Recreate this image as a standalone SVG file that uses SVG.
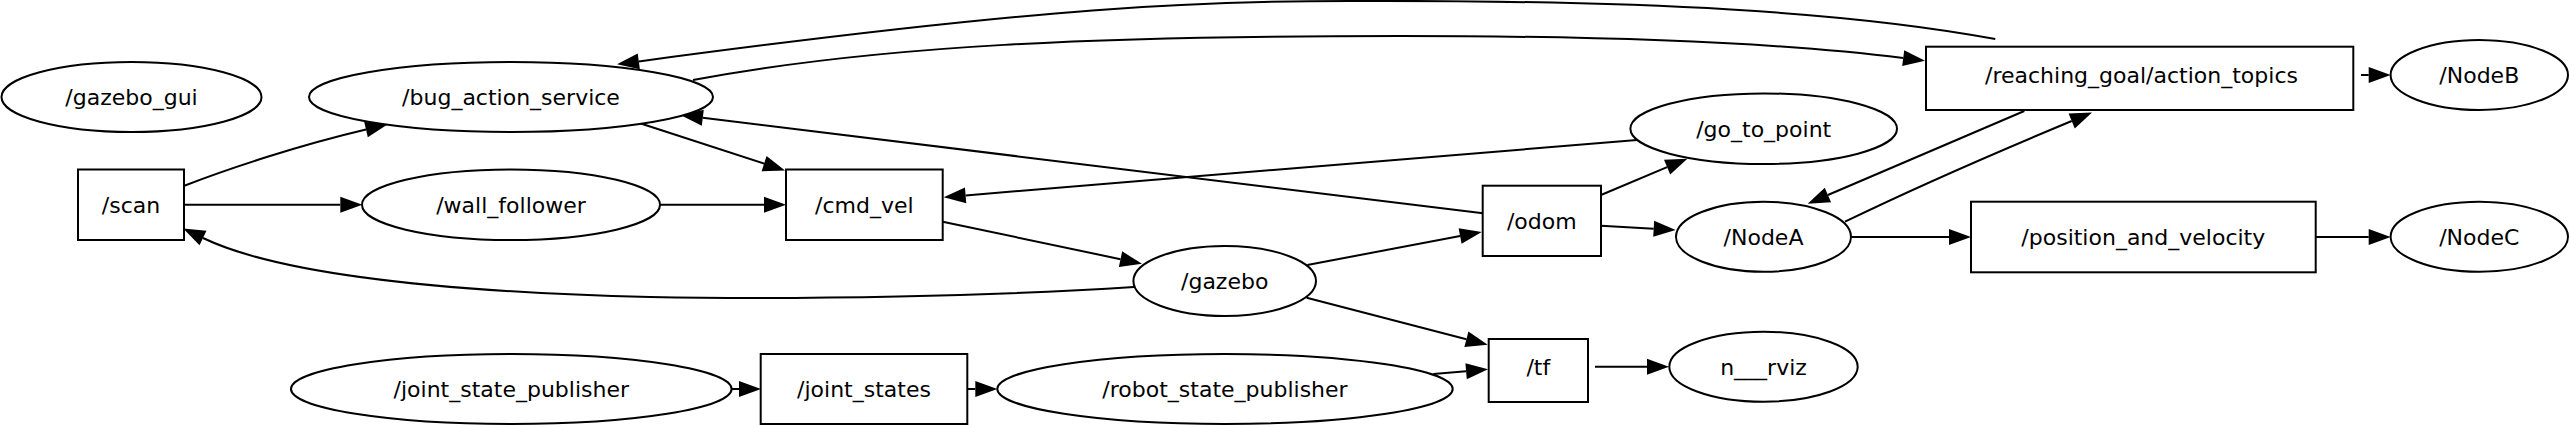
<svg xmlns="http://www.w3.org/2000/svg" width="2569" height="425" viewBox="0 0 2569 425">
<style>
.n{fill:#fff;stroke:#000;stroke-width:2}
.t{font-family:"DejaVu Sans",sans-serif;font-size:22px;fill:#000;text-anchor:middle}
.e{fill:none;stroke:#000;stroke-width:2;marker-end:url(#ah)}
.p{fill:none;stroke:#000;stroke-width:2}
</style>
<defs>
<marker id="ah" markerUnits="userSpaceOnUse" markerWidth="22" markerHeight="16" refX="0" refY="8" orient="auto" viewBox="0 0 22 16" overflow="visible">
<path d="M0,0 L22,8 L0,16 z" fill="#000"/>
</marker>
</defs>
<rect width="2569" height="425" fill="#fff"/>
<g id="edges">
<path class="e" d="M184.3,185.7 C230,168 300,145 366,129.5"/>
<path class="e" d="M184.3,204.7 L340.3,204.7"/>
<path class="e" d="M1134,287 C1000,296 800,300 650,297 C450,292 280,275 203,238"/>
<path class="e" d="M660,204.7 L764,204.7"/>
<path class="e" d="M640,123.3 L764.1,163.6"/>
<path class="e" d="M1483,213.3 L702.8,117.8"/>
<path class="e" d="M1637,140 L965.6,195.4"/>
<path class="e" d="M942.7,221.7 L1120.5,259.2"/>
<path class="e" d="M1307.3,265 L1460.1,236"/>
<path class="e" d="M1306.7,297.7 L1466.4,339.2"/>
<path class="e" d="M1433.3,374 L1466.1,371.2"/>
<path class="e" d="M731.7,389 L739,389"/>
<path class="e" d="M967.3,389 L975.3,389"/>
<path class="e" d="M1595,366.7 L1647,366.7"/>
<path class="e" d="M1601,195 L1667.1,167.2"/>
<path class="e" d="M1601,225.7 L1653.7,228.7"/>
<path class="e" d="M1851,237 L1949,237"/>
<path class="e" d="M2315.7,237 L2368.7,237"/>
<path class="e" d="M2361,75 L2368.7,75"/>
<path class="e" d="M2024.3,111 L1827.9,195"/>
<path class="e" d="M1845,221.7 C1900,195 1990,155 2071.7,121"/>
<path class="e" d="M693,80 C880,45 1100,36 1400,36 C1650,36 1800,45 1903.2,58.1"/>
<path class="e" d="M1995.3,39 C1850,12 1650,0 1350,1 C1200,1 1050,6 638.8,61.4"/>
</g>
<g id="gazebo_gui"><ellipse class="n" cx="131.5" cy="97" rx="130" ry="35"/><text class="t" x="131.5" y="105">/gazebo_gui</text></g>
<g id="bug_action_service"><ellipse class="n" cx="511" cy="97" rx="202" ry="35"/><text class="t" x="511" y="105">/bug_action_service</text></g>
<g id="scan"><rect class="n" x="78" y="169.5" width="106" height="70.5"/><text class="t" x="131" y="212.7">/scan</text></g>
<g id="wall_follower"><ellipse class="n" cx="511" cy="204.7" rx="149" ry="35.3"/><text class="t" x="511" y="212.7">/wall_follower</text></g>
<g id="cmd_vel"><rect class="n" x="786" y="169.5" width="156.7" height="70.5"/><text class="t" x="864.3" y="212.7">/cmd_vel</text></g>
<g id="joint_state_publisher"><ellipse class="n" cx="511.3" cy="389" rx="220.3" ry="35"/><text class="t" x="511.3" y="397">/joint_state_publisher</text></g>
<g id="joint_states"><rect class="n" x="760.7" y="354" width="206.6" height="70"/><text class="t" x="864" y="397">/joint_states</text></g>
<g id="robot_state_publisher"><ellipse class="n" cx="1225" cy="389" rx="227.7" ry="35"/><text class="t" x="1225" y="397">/robot_state_publisher</text></g>
<g id="gazebo"><ellipse class="n" cx="1224.7" cy="281" rx="91.3" ry="35"/><text class="t" x="1224.7" y="289">/gazebo</text></g>
<g id="odom"><rect class="n" x="1482.7" y="185.7" width="118.3" height="70.3"/><text class="t" x="1541.8" y="229">/odom</text></g>
<g id="tf"><rect class="n" x="1488.7" y="339" width="99.3" height="63"/><text class="t" x="1538.3" y="375">/tf</text></g>
<g id="go_to_point"><ellipse class="n" cx="1763.7" cy="128.7" rx="133.3" ry="35.3"/><text class="t" x="1763.7" y="136.7">/go_to_point</text></g>
<g id="NodeA"><ellipse class="n" cx="1763.5" cy="236.7" rx="87.5" ry="35"/><text class="t" x="1763.5" y="245">/NodeA</text></g>
<g id="n___rviz"><ellipse class="n" cx="1763.5" cy="366.7" rx="94.2" ry="35"/><text class="t" x="1763.5" y="375">n___rviz</text></g>
<g id="reaching_goal_action_topics"><rect class="n" x="1926" y="46.7" width="427.3" height="63.3"/><text class="t" x="2141.5" y="83">/reaching_goal/action_topics</text></g>
<g id="position_and_velocity"><rect class="n" x="1971" y="201.7" width="344.7" height="70.6"/><text class="t" x="2143.3" y="245">/position_and_velocity</text></g>
<g id="NodeB"><ellipse class="n" cx="2479.3" cy="75" rx="88.7" ry="35"/><text class="t" x="2479.3" y="83">/NodeB</text></g>
<g id="NodeC"><ellipse class="n" cx="2479.3" cy="236.7" rx="88.7" ry="35"/><text class="t" x="2479.3" y="245">/NodeC</text></g>
</svg>
